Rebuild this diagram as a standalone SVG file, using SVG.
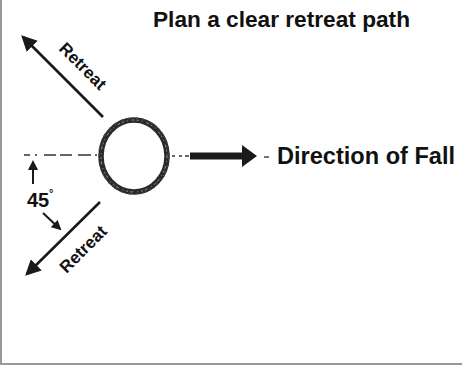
<svg xmlns="http://www.w3.org/2000/svg" width="462" height="365" viewBox="0 0 462 365">
<style>
text{font-family:"Liberation Sans",Arial,sans-serif;font-weight:bold;fill:#111}
.arr{stroke:#1a1a1a;stroke-width:2.6;fill:none}
.dash{stroke:#666;stroke-width:1.8;fill:none}
</style>
<defs>
<marker id="head" markerWidth="6" markerHeight="6" refX="5" refY="3" orient="auto" markerUnits="strokeWidth">
<path d="M0,0 L6,3 L0,6 Z" fill="#1a1a1a"/>
</marker>
<marker id="small" markerWidth="5" markerHeight="5" refX="4" refY="2.5" orient="auto" markerUnits="strokeWidth">
<path d="M0,0 L5,2.5 L0,5 Z" fill="#1a1a1a"/>
</marker>
</defs>
<rect width="462" height="365" fill="#fff"/>
<line x1="1" y1="0" x2="1" y2="365" stroke="#999" stroke-width="2"/>
<line x1="0" y1="364" x2="462" y2="364" stroke="#999" stroke-width="2"/>

<g id="title"><text x="153" y="27" font-size="22" textLength="257" lengthAdjust="spacingAndGlyphs">Plan a clear retreat path</text></g>

<g id="tree">
<ellipse cx="134" cy="156" rx="33" ry="36" fill="none" stroke="#2a2a2a" stroke-width="5.5"/>
<ellipse cx="134" cy="156" rx="35" ry="38" fill="none" stroke="#444" stroke-width="1.5" stroke-dasharray="3 2 1 3 2 4"/>
<ellipse cx="134" cy="156" rx="33" ry="36" fill="none" stroke="#999" stroke-width="1" stroke-dasharray="2 3 1 4 3 2"/>
</g>

<g id="connectors">
<path class="dash" d="M24,155 H30 M35,155 H37 M44,155 H56 M60,155 H72 M78,155 H91 M95,155 H97"/>
<path class="dash" d="M172,156 H175 M179,156 H182 M185,156 H189"/>
<path d="M190,152.5 H242 V145 L257,156 L242,167 V159.5 H190 Z" fill="#1a1a1a"/>
<path class="dash" d="M264,157 H269"/>
<line class="arr" x1="103" y1="117" x2="23" y2="37" marker-end="url(#head)"/>
<line class="arr" x1="100" y1="202" x2="27" y2="274" marker-end="url(#head)"/>
<line x1="33" y1="184" x2="33" y2="162" stroke="#1a1a1a" stroke-width="2" marker-end="url(#small)"/>
<line x1="43" y1="213" x2="60" y2="229" stroke="#1a1a1a" stroke-width="2" marker-end="url(#small)"/>
</g>

<g id="label-retreat-up"><text transform="translate(83,66) rotate(45)" text-anchor="middle" dy="0.35em" font-size="17">Retreat</text></g>
<g id="label-retreat-down"><text transform="translate(83,249) rotate(-45)" text-anchor="middle" dy="0.35em" font-size="17">Retreat</text></g>
<g id="label-45"><text x="27" y="207" font-size="20">45</text><text x="49" y="197" font-size="11">°</text></g>
<g id="label-fall"><text x="277" y="164" font-size="23" textLength="178" lengthAdjust="spacingAndGlyphs">Direction of Fall</text></g>
</svg>
